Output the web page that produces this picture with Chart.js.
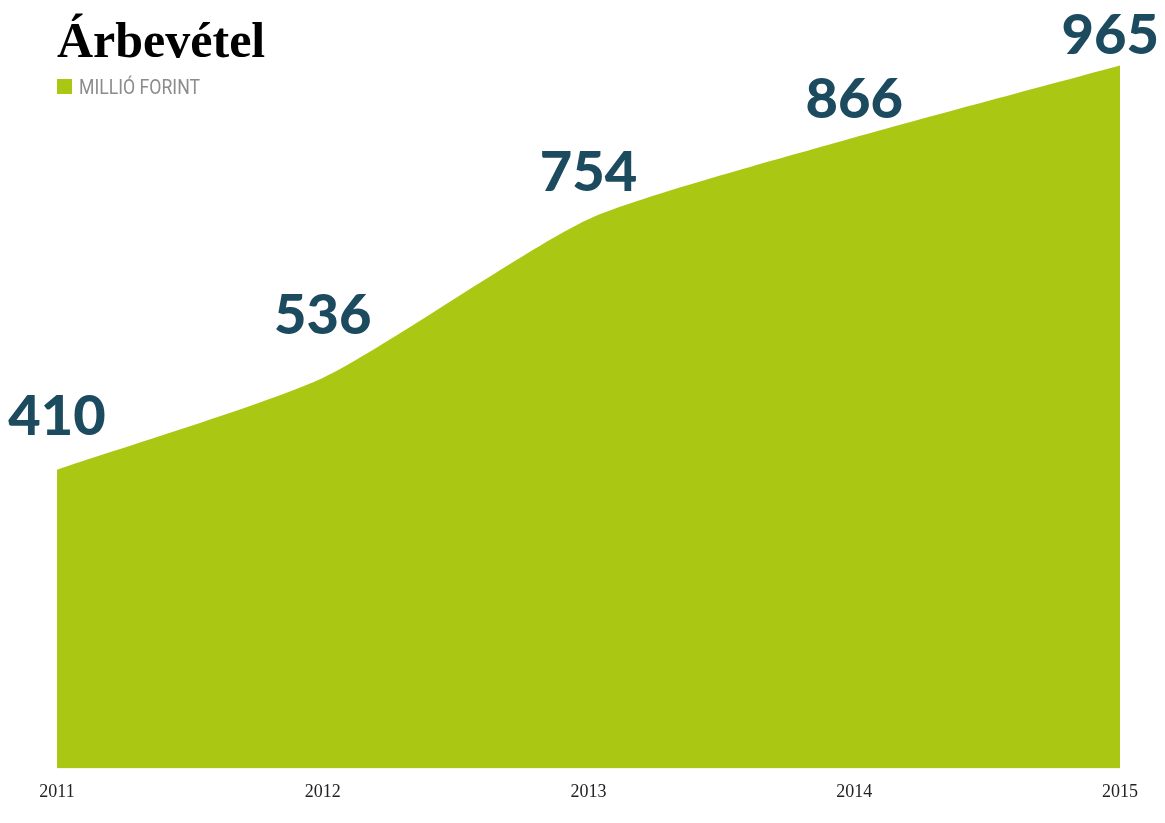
<!DOCTYPE html>
<html>
<head>
<meta charset="utf-8">
<script src="https://cdn.jsdelivr.net/npm/chart.js@4/dist/chart.umd.min.js"></script>
<style>
html,body{margin:0;padding:0;background:#fff;}
#wrap{width:1165px;height:823px;position:relative;}
</style>
</head>
<body>
<div id="wrap"><canvas id="c" width="1165" height="823"></canvas></div>
<script>
const years = ['2011', '2012', '2013', '2014', '2015'];
const revenue = [410, 536, 754, 866, 965];
const titleText = 'Árbevétel';
const unitText = 'MILLIÓ FORINT';

const GREEN = '#aac714';
const DARK = '#1c4a5e';
// vertical gap (px) between each point and the centre of its value label
const labelGap = [53, 62, 46, 38, 30];

const overlay = {
  id: 'overlay',
  afterDraw(chart) {
    const ctx = chart.ctx;
    const xs = chart.scales.x, ys = chart.scales.y;
    ctx.save();
    // title
    ctx.fillStyle = '#000';
    ctx.font = 'bold 50px "Liberation Serif", "DejaVu Serif", serif';
    ctx.textAlign = 'left';
    ctx.textBaseline = 'alphabetic';
    ctx.fillText(titleText, 57, 57);
    // legend
    ctx.fillStyle = GREEN;
    ctx.fillRect(57, 79, 15, 15);
    ctx.fillStyle = '#8c8c8c';
    ctx.font = '21px "Liberation Sans Narrow", "Roboto", "DejaVu Sans", sans-serif';
    const uw = ctx.measureText(unitText).width;
    const sx = 121 / uw;
    ctx.save();
    ctx.translate(79, 94);
    ctx.scale(sx, 1);
    ctx.fillText(unitText, 0, 0);
    ctx.restore();
    // value labels
    ctx.fillStyle = DARK;
    ctx.font = '900 56px "Lato", "Open Sans", sans-serif';
    ctx.textAlign = 'center';
    ctx.textBaseline = 'middle';
    revenue.forEach((v, i) => {
      const s = String(v);
      const w = ctx.measureText(s).width;
      let x = xs.getPixelForValue(i);
      x = Math.min(x, chart.width - 6 - w / 2);
      x = Math.max(x, 8 + w / 2);
      const y = ys.getPixelForValue(v) - labelGap[i];
      ctx.fillText(s, x, y);
    });
    ctx.restore();
  }
};

new Chart(document.getElementById('c'), {
  type: 'line',
  data: {
    labels: years,
    datasets: [{
      data: revenue,
      fill: 'origin',
      backgroundColor: GREEN,
      borderColor: GREEN,
      borderWidth: 0,
      pointRadius: 0,
      tension: 0.2
    }]
  },
  options: {
    responsive: false,
    animation: false,
    layout: { padding: { left: 57, right: 45, top: 40, bottom: 7 } },
    plugins: { legend: { display: false }, tooltip: { enabled: false } },
    scales: {
      x: {
        offset: false,
        grid: { display: false, drawTicks: false },
        border: { display: false },
        ticks: {
          color: '#222',
          padding: 13,
          maxRotation: 0,
          font: { family: '"Liberation Serif", "DejaVu Serif", serif', size: 18 }
        }
      },
      y: {
        display: false,
        min: 0,
        max: 1000
      }
    }
  },
  plugins: [overlay]
});
</script>
</body>
</html>
